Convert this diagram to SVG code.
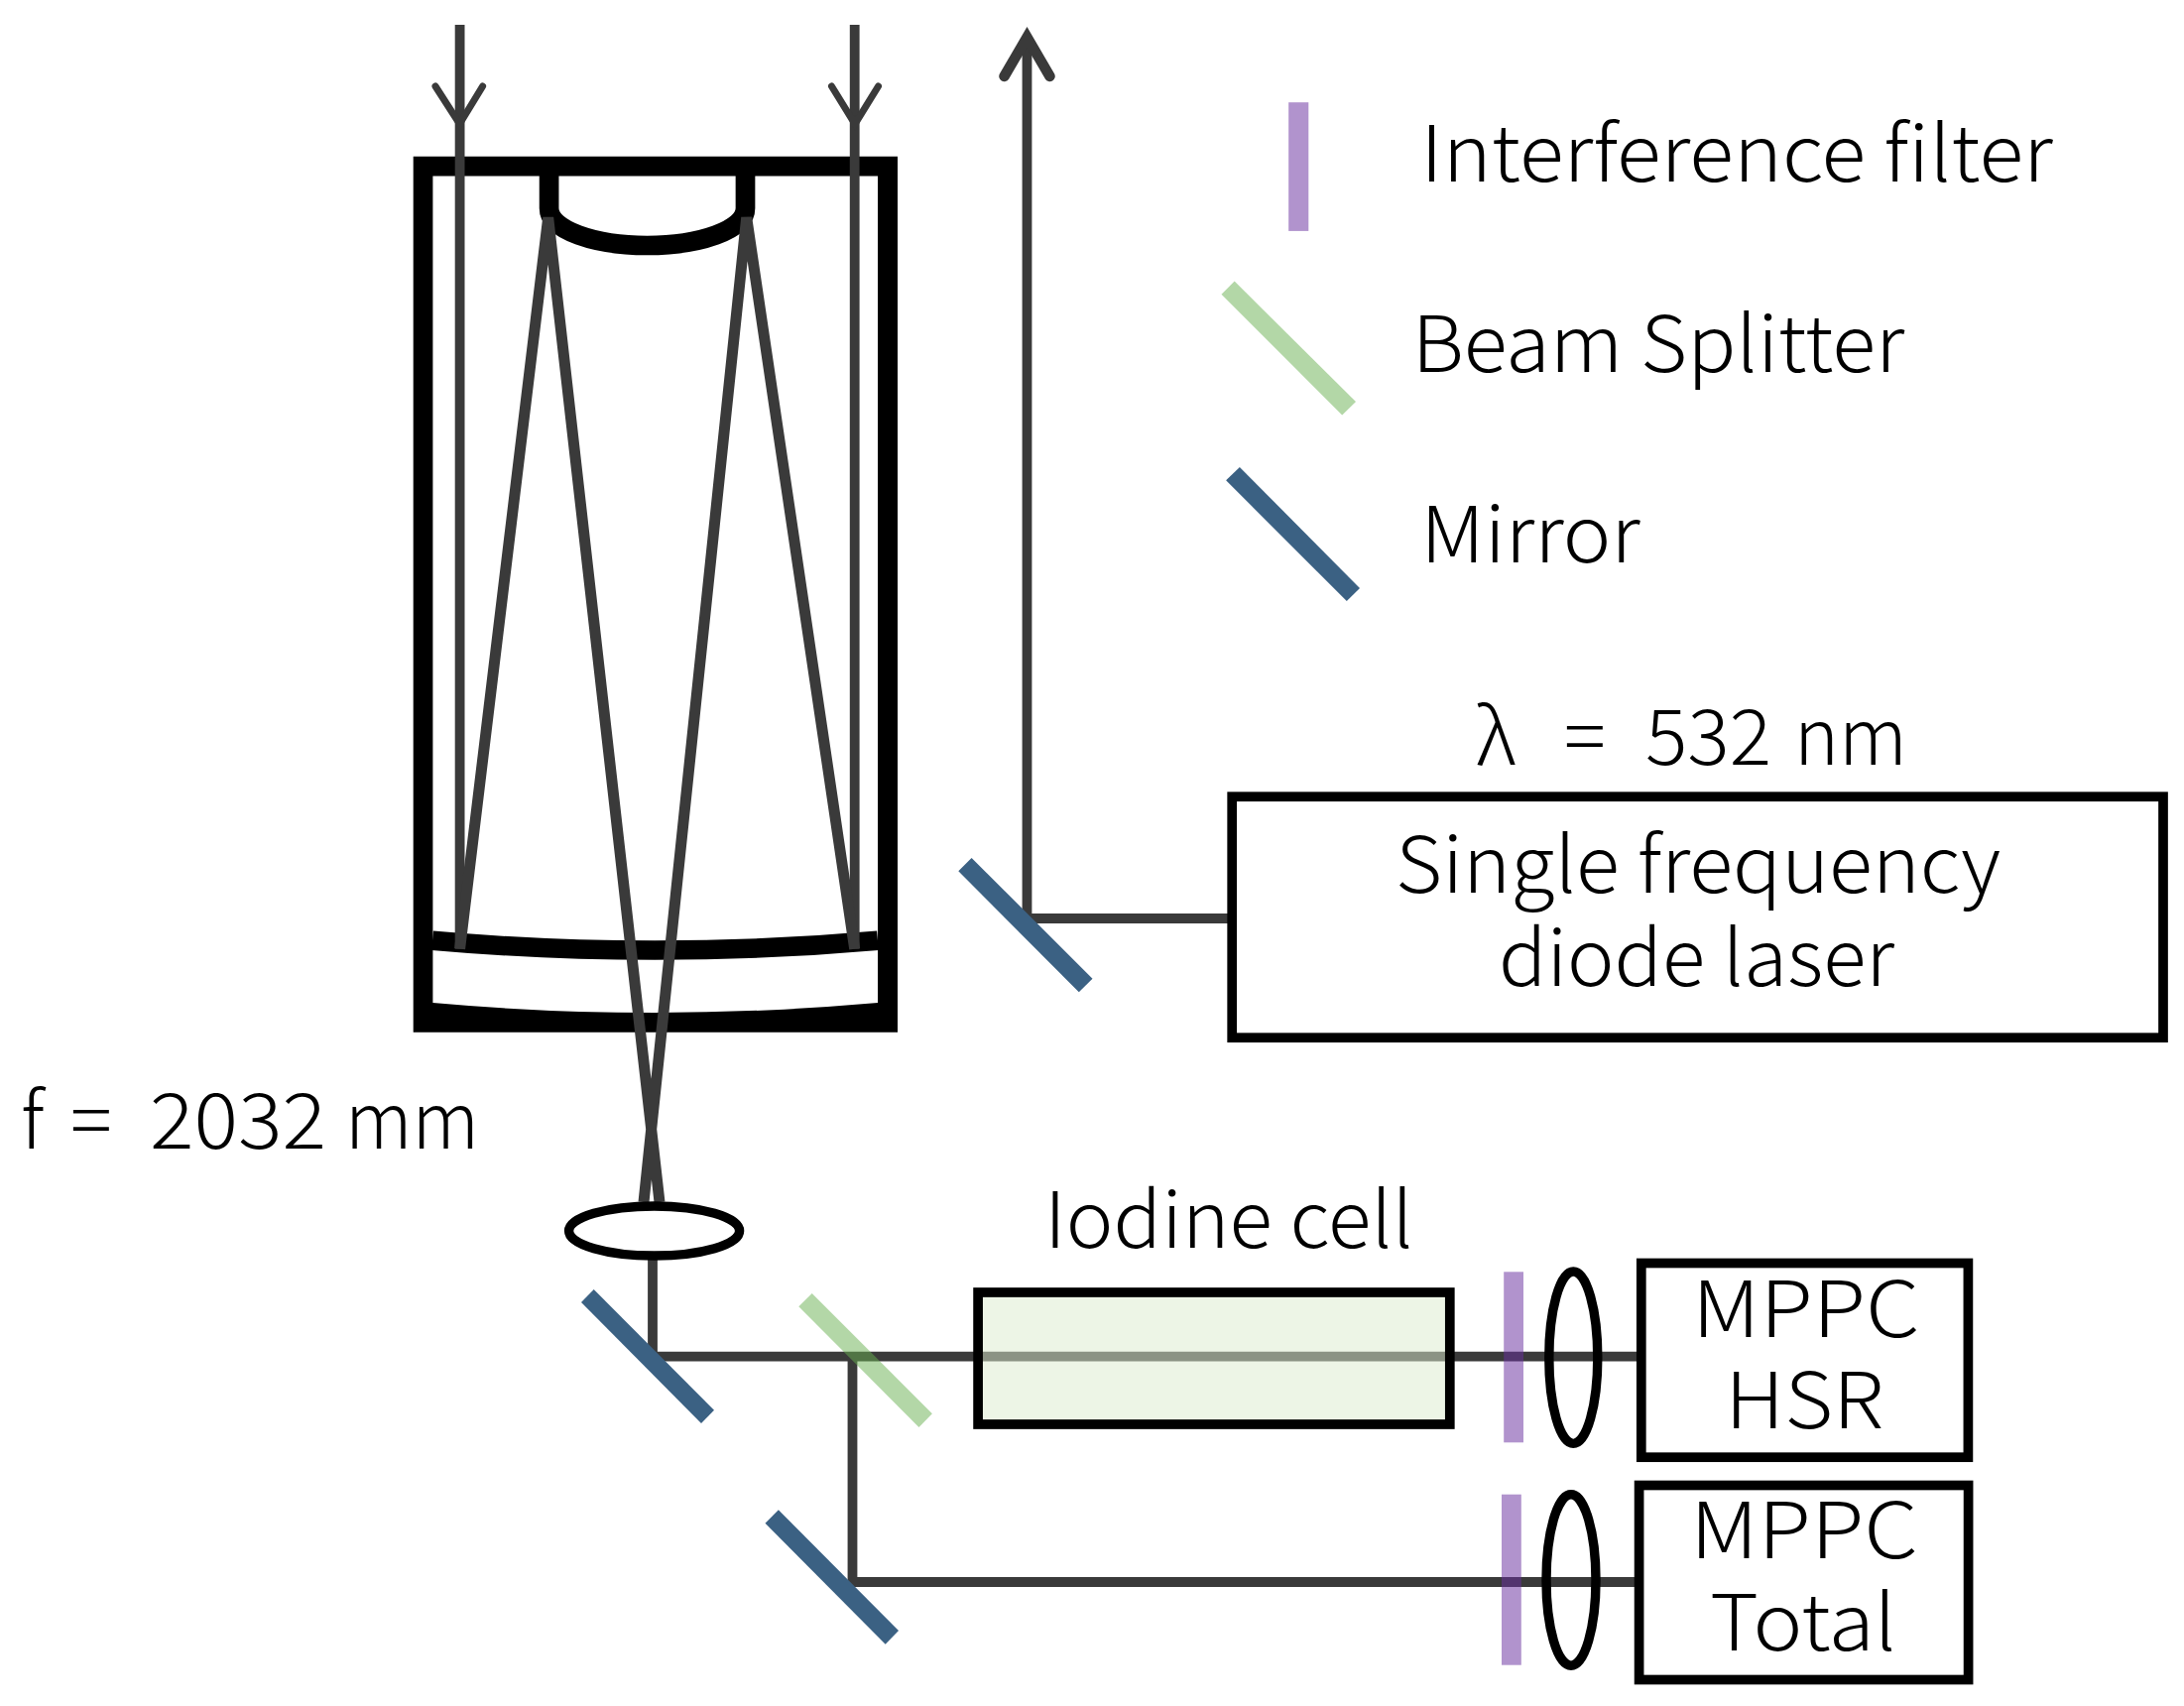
<svg xmlns="http://www.w3.org/2000/svg" width="2202" height="1720" viewBox="0 0 2202 1720">
<style>
.bk{fill:none;stroke:#000}
.box{fill:none;stroke:#000;stroke-width:9.7}
.lens{fill:none;stroke:#000;stroke-width:9.4}
.beam{fill:none;stroke:#3a3a3a;stroke-width:9.8}
.mirror{fill:#3b6183}
.split{fill:#68b050;fill-opacity:.5}
.filter{fill:#6a30a0;fill-opacity:.52}
text{font-family:"Noto Sans CJK JP","Noto Sans",sans-serif;font-size:78px;font-weight:300;fill:#000;white-space:pre}
</style>
<rect width="2202" height="1720" fill="#fff"/>
<g id="telescope">
<path d="M416.7 157.7H905V1040.7H416.7ZM436.4 177.5V1011Q660 1031 885 1011V177.5Z" fill="#000" fill-rule="evenodd"/>
<path d="M436 948.2Q660 968 885 948.2" class="bk" stroke-width="19.5"/>
<path d="M553.6 172V210C553.6 232 600 247.5 652.5 247.5C705 247.5 751.5 232 751.5 210V172" class="bk" stroke-width="19.7"/>
</g>
<g id="connectors">
<path class="beam" d="M463.6 25V956.7M861.7 25V956.7"/>
<path class="beam" d="M463.6 956.7L552.7 219.3L665 1212M861.7 956.7L752.7 219.3L649 1212" style="stroke-width:11"/>
<path class="beam" d="M439 87L463.4 125L486.6 87M838.5 87L862 125L885.5 87" style="stroke-width:7;stroke-linecap:round"/>
<path class="beam" d="M1035.5 40V926H1238"/>
<path class="beam" d="M1012.5 77L1035.5 37.5L1058.5 77" style="stroke-width:10.5;stroke-linecap:round;stroke-linejoin:miter;stroke-miterlimit:10"/>
<path class="beam" d="M658 1266V1367.7H1651M859.5 1363V1595H1648"/>
</g>
<g id="lens-objective"><ellipse class="lens" cx="659.6" cy="1241" rx="86" ry="25"/></g>
<g id="mirror-laser"><polygon class="mirror" points="979.6,865 966.3,878.3 1087.8,1000.3 1101.5,986.7"/></g>
<g id="mirror-1"><polygon class="mirror" points="598.7,1300 586,1313 707,1435 720,1421.7"/></g>
<g id="beam-splitter"><polygon class="split" points="818.7,1304 805.3,1317.3 926.5,1439 939.9,1425.3"/></g>
<g id="mirror-2"><polygon class="mirror" points="784.9,1522.3 771.5,1535.7 892.7,1657.7 906,1644"/></g>
<g id="iodine-cell">
<rect x="986.1" y="1303" width="475.7" height="133" fill="#dbebcd" fill-opacity=".5" stroke="#000" stroke-width="9.7"/>
<text x="1053" y="1257.7" textLength="372" lengthAdjust="spacingAndGlyphs">Iodine cell</text>
</g>
<g id="filter-hsr"><rect class="filter" x="1516.2" y="1282.3" width="19.8" height="172"/></g>
<g id="filter-total"><rect class="filter" x="1514" y="1506.7" width="19.8" height="172"/></g>
<g id="lens-hsr"><ellipse class="lens" cx="1586.3" cy="1368.7" rx="24.5" ry="86.7"/></g>
<g id="lens-total"><ellipse class="lens" cx="1584" cy="1593" rx="25" ry="86.2"/></g>
<g id="mppc-hsr">
<rect class="box" x="1654.8" y="1273.5" width="329.6" height="195.7"/>
<text x="1706" y="1347.7" textLength="229.6" lengthAdjust="spacingAndGlyphs">MPPC</text>
<text x="1739.3" y="1440" textLength="160" lengthAdjust="spacingAndGlyphs">HSR</text>
</g>
<g id="mppc-total">
<rect class="box" x="1652.6" y="1497.5" width="332" height="196"/>
<text x="1704" y="1570.7" textLength="230" lengthAdjust="spacingAndGlyphs">MPPC</text>
<text x="1724" y="1664" textLength="188" lengthAdjust="spacingAndGlyphs">Total</text>
</g>
<g id="laser">
<rect class="box" x="1242.2" y="803.2" width="938.8" height="243"/>
<text x="1407" y="900" textLength="610" lengthAdjust="spacingAndGlyphs">Single frequency</text>
<text x="1511" y="994" textLength="399" lengthAdjust="spacingAndGlyphs">diode laser</text>
</g>
<g id="wavelength"><text y="770.7"><tspan x="1488">λ</tspan> <tspan x="1577">=</tspan> <tspan x="1659" textLength="127" lengthAdjust="spacingAndGlyphs">532</tspan> <tspan x="1809" textLength="114" lengthAdjust="spacingAndGlyphs">nm</tspan></text></g>
<g id="focal-length"><text y="1158"><tspan x="21">f</tspan> <tspan x="71">=</tspan> <tspan x="151" textLength="178" lengthAdjust="spacingAndGlyphs">2032</tspan> <tspan x="348" textLength="135" lengthAdjust="spacingAndGlyphs">mm</tspan></text></g>
<g id="legend-filter">
<rect class="filter" x="1299.2" y="103.2" width="20.1" height="129.7"/>
<text x="1432.3" y="182.9" textLength="637.4" lengthAdjust="spacingAndGlyphs">Interference filter</text>
</g>
<g id="legend-splitter">
<polygon class="split" points="1244.7,283.6 1231.5,296.8 1353.2,418.6 1367,405"/>
<text x="1423.7" y="375.4" textLength="496.4" lengthAdjust="spacingAndGlyphs">Beam Splitter</text>
</g>
<g id="legend-mirror">
<polygon class="mirror" points="1249.9,471 1236.1,484.3 1357.8,606 1371,592.9"/>
<text x="1432.3" y="566.8" textLength="221.4" lengthAdjust="spacingAndGlyphs">Mirror</text>
</g>
</svg>
